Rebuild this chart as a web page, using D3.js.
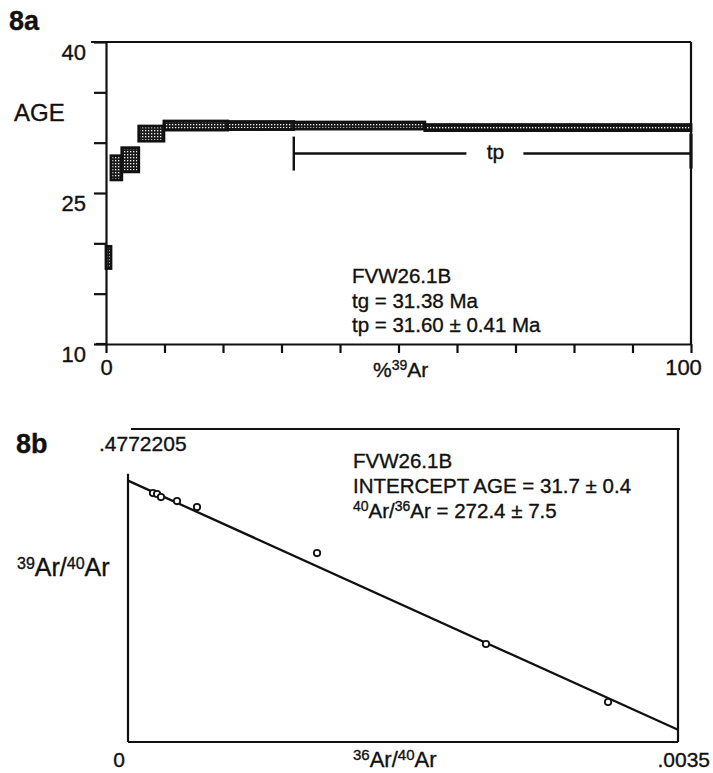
<!DOCTYPE html>
<html>
<head>
<meta charset="utf-8">
<script src="https://cdn.jsdelivr.net/npm/d3@7"></script>
<style>
  html, body { margin: 0; padding: 0; background: #fff; }
  svg { display: block; }
  text { font-family: "Liberation Sans", Arial, Helvetica, sans-serif; fill: #111; stroke: #111; stroke-width: 0.35px; }
</style>
</head>
<body>
<svg id="chart" width="713" height="773"></svg>
<script>
// ---- 8a: age spectrum (cumulative %39Ar vs apparent age, Ma) ----
const stepStart = [0, 0.85, 2.7, 5.6, 9.9, 20.8, 32.1, 54.5];
const stepEnd   = [0.85, 2.7, 5.6, 9.9, 20.8, 32.1, 54.5, 100];
const stepAge   = [18.6, 27.5, 28.3, 30.9, 31.7, 31.7, 31.7, 31.5];
const stepErr   = [1.1, 1.2, 1.2, 0.75, 0.45, 0.4, 0.35, 0.3];
const ageTicks  = [40, 35, 30, 25, 20, 15, 10];
const ageLabels = [40, 25, 10];
const pctTicks  = [0, 10, 20, 30, 40, 50, 60, 70, 80, 90, 100];
const pctLabels = [0, 100];
const plateauStart = 32.1;
const plateauEnd = 100;
const sampleName = "FVW26.1B";
const totalGasAge = 31.38;
const plateauAge = 31.60;
const plateauErr = 0.41;

// ---- 8b: inverse isochron (36Ar/40Ar vs 39Ar/40Ar) ----
const isoX = [0.000159, 0.000185, 0.000210, 0.000312, 0.000439, 0.001203, 0.002278, 0.003055];
const isoY = [0.3796, 0.3781, 0.3735, 0.3674, 0.3583, 0.2881, 0.1494, 0.0610];
const isoXMax = 0.0035;
const isoYMax = 0.4772205;
const isoYIntercept = 0.3985;      // 39Ar/40Ar at 36Ar/40Ar = 0
const trappedRatio = 272.4;        // 40Ar/36Ar
const trappedErr = 7.5;
const interceptAge = 31.7;
const interceptErr = 0.4;

const svg = d3.select("#chart");
const ink = "#111";

// mesh fill used for the age steps
const defs = svg.append("defs");
const pat = defs.append("pattern")
  .attr("id", "mesh").attr("patternUnits", "userSpaceOnUse")
  .attr("width", 3).attr("height", 3);
pat.append("rect").attr("width", 3).attr("height", 3).attr("fill", "#1a1a1a");
pat.append("rect").attr("x", 1).attr("y", 1).attr("width", 1.3).attr("height", 1.3).attr("fill", "#f4f4f4");

// ===================== 8a =====================
const xA = d3.scaleLinear().domain([0, 100]).range([106, 691]);
const yA = d3.scaleLinear().domain([10, 40]).range([344, 42]);
const gA = svg.append("g");

// frame: top and right edges
gA.append("line").attr("x1", xA(0) - 15).attr("x2", xA(100)).attr("y1", yA(40)).attr("y2", yA(40))
  .attr("stroke", ink).attr("stroke-width", 2.2);
gA.append("line").attr("x1", xA(100)).attr("x2", xA(100)).attr("y1", yA(40)).attr("y2", yA(10))
  .attr("stroke", ink).attr("stroke-width", 2.2);

const axLeft = d3.axisLeft(yA).tickValues(ageTicks).tickSize(12).tickSizeOuter(0)
  .tickFormat(d => ageLabels.includes(d) ? d : "");
const gyA = gA.append("g").attr("transform", `translate(${xA(0)},0)`).call(axLeft);
gyA.selectAll("path, line").attr("stroke", ink).attr("stroke-width", 2.2);
gyA.selectAll("text").attr("font-size", 22).attr("x", -20).attr("dy", "0.8em")
  .style("fill", ink).style("stroke", ink).style("stroke-width", "0.35px")
  .attr("font-family", '"Liberation Sans", Arial, sans-serif');

const axBottom = d3.axisBottom(xA).tickValues(pctTicks).tickSize(9).tickSizeOuter(0)
  .tickFormat(d => pctLabels.includes(d) ? d : "");
const gxA = gA.append("g").attr("transform", `translate(0,${yA(10)})`).call(axBottom);
gxA.selectAll("path, line").attr("stroke", ink).attr("stroke-width", 2.2);
gxA.selectAll("text").attr("font-size", 22).attr("y", 15).attr("dy", "0.71em")
  .style("fill", ink).style("stroke", ink).style("stroke-width", "0.35px")
  .attr("font-family", '"Liberation Sans", Arial, sans-serif')
  .attr("dx", d => d === 100 ? -8 : 0);
// bottom axis line extends left past the y axis
gA.append("line").attr("x1", xA(0) - 10).attr("x2", xA(0)).attr("y1", yA(10)).attr("y2", yA(10))
  .attr("stroke", ink).attr("stroke-width", 2.2);

// age steps
const steps = stepStart.map((s, i) => ({ s, e: stepEnd[i], a: stepAge[i], err: stepErr[i] }));
gA.append("g").selectAll("rect").data(steps).join("rect")
  .attr("x", d => xA(d.s)).attr("width", d => xA(d.e) - xA(d.s))
  .attr("y", d => yA(d.a + d.err)).attr("height", d => yA(d.a - d.err) - yA(d.a + d.err))
  .attr("fill", "url(#mesh)").attr("stroke", ink).attr("stroke-width", 2.8);

// plateau bracket
const pY = yA(plateauAge) + 27;
const tpX = (xA(plateauStart) + xA(plateauEnd)) / 2 + 3;
const br = gA.append("g").attr("stroke", ink).attr("stroke-width", 2.4);
br.append("line").attr("x1", xA(plateauStart)).attr("x2", xA(plateauStart)).attr("y1", pY - 17).attr("y2", pY + 17);
br.append("line").attr("x1", xA(plateauEnd)).attr("x2", xA(plateauEnd)).attr("y1", pY - 20).attr("y2", pY + 15).attr("stroke-width", 3.2);
br.append("line").attr("x1", xA(plateauStart)).attr("x2", tpX - 29).attr("y1", pY).attr("y2", pY);
br.append("line").attr("x1", tpX + 28).attr("x2", xA(plateauEnd)).attr("y1", pY).attr("y2", pY);
gA.append("text").attr("x", tpX).attr("y", pY + 5).attr("text-anchor", "middle")
  .attr("font-size", 21).text("tp");

// labels
svg.append("text").attr("x", 9).attr("y", 30).attr("font-size", 27).attr("font-weight", "bold").text("8a");
svg.append("text").attr("x", 14).attr("y", 121).attr("font-size", 24).text("AGE");
const xlabA = svg.append("text").attr("x", 373).attr("y", 377).attr("font-size", 21);
xlabA.append("tspan").text("%");
xlabA.append("tspan").attr("font-size", 14).attr("dy", -7).text("39");
xlabA.append("tspan").attr("dy", 7).text("Ar");

const annA = [
  sampleName,
  `tg = ${totalGasAge.toFixed(2)} Ma`,
  `tp = ${plateauAge.toFixed(2)} \u00b1 ${plateauErr.toFixed(2)} Ma`
];
svg.append("g").selectAll("text").data(annA).join("text")
  .attr("x", 352).attr("y", (d, i) => 283 + i * 24.5)
  .attr("font-size", 20.5).text(d => d);

// ===================== 8b =====================
const xB = d3.scaleLinear().domain([0, isoXMax]).range([128, 678]);
const yB = d3.scaleLinear().domain([0, isoYMax]).range([742, 429]);
const gB = svg.append("g").attr("stroke", ink).attr("stroke-width", 2.2).attr("fill", "none");
gB.append("line").attr("x1", xB(0) + 3).attr("x2", xB(isoXMax) + 2).attr("y1", yB(isoYMax)).attr("y2", yB(isoYMax));
gB.append("line").attr("x1", xB(isoXMax)).attr("x2", xB(isoXMax)).attr("y1", yB(isoYMax)).attr("y2", yB(0));
gB.append("line").attr("x1", xB(0)).attr("x2", xB(isoXMax)).attr("y1", yB(0)).attr("y2", yB(0));
gB.append("line").attr("x1", xB(0)).attr("x2", xB(0)).attr("y1", yB(0)).attr("y2", yB(0.409));

// regression line: 39Ar/40Ar = b * (1 - (36Ar/40Ar) * trappedRatio)
const fit = v => isoYIntercept * (1 - v * trappedRatio);
const fitPts = [0, isoXMax].map(v => [xB(v), yB(fit(v))]);
gB.append("path").attr("d", d3.line()(fitPts)).attr("stroke-width", 2.3);

// measured steps
svg.append("g").selectAll("circle").data(isoX.map((v, i) => [v, isoY[i]])).join("circle")
  .attr("cx", d => xB(d[0])).attr("cy", d => yB(d[1])).attr("r", 3.2)
  .attr("fill", "#fff").attr("stroke", ink).attr("stroke-width", 1.8);

// labels
svg.append("text").attr("x", 16).attr("y", 453).attr("font-size", 27).attr("font-weight", "bold").text("8b");
svg.append("text").attr("x", 99).attr("y", 451).attr("font-size", 21)
  .text(String(isoYMax).replace(/^0/, ""));
svg.append("text").attr("x", xB(0) - 9).attr("y", 767).attr("text-anchor", "middle").attr("font-size", 21).text("0");
svg.append("text").attr("x", 710).attr("y", 767).attr("text-anchor", "end").attr("font-size", 21)
  .text(String(isoXMax).replace(/^0/, ""));

function ratioLabel(sel, top, bottom, size, supSize) {
  sel.append("tspan").attr("font-size", supSize).attr("dy", -7).text(top);
  sel.append("tspan").attr("font-size", size).attr("dy", 7).text("Ar/");
  sel.append("tspan").attr("font-size", supSize).attr("dy", -7).text(bottom);
  sel.append("tspan").attr("font-size", size).attr("dy", 7).text("Ar");
}
ratioLabel(svg.append("text").attr("x", 17).attr("y", 576), "39", "40", 25, 16);
ratioLabel(svg.append("text").attr("x", 353).attr("y", 767), "36", "40", 22, 15);

const annB = svg.append("g").attr("font-size", 20.5);
annB.append("text").attr("x", 353).attr("y", 468).text(sampleName);
annB.append("text").attr("x", 353).attr("y", 493)
  .text(`INTERCEPT AGE = ${interceptAge.toFixed(1)} \u00b1 ${interceptErr.toFixed(1)}`);
const ratioLine = annB.append("text").attr("x", 353).attr("y", 518);
ratioLabel(ratioLine, "40", "36", 20.5, 14);
ratioLine.append("tspan").text(` = ${trappedRatio.toFixed(1)} \u00b1 ${trappedErr.toFixed(1)}`);
</script>
</body>
</html>
